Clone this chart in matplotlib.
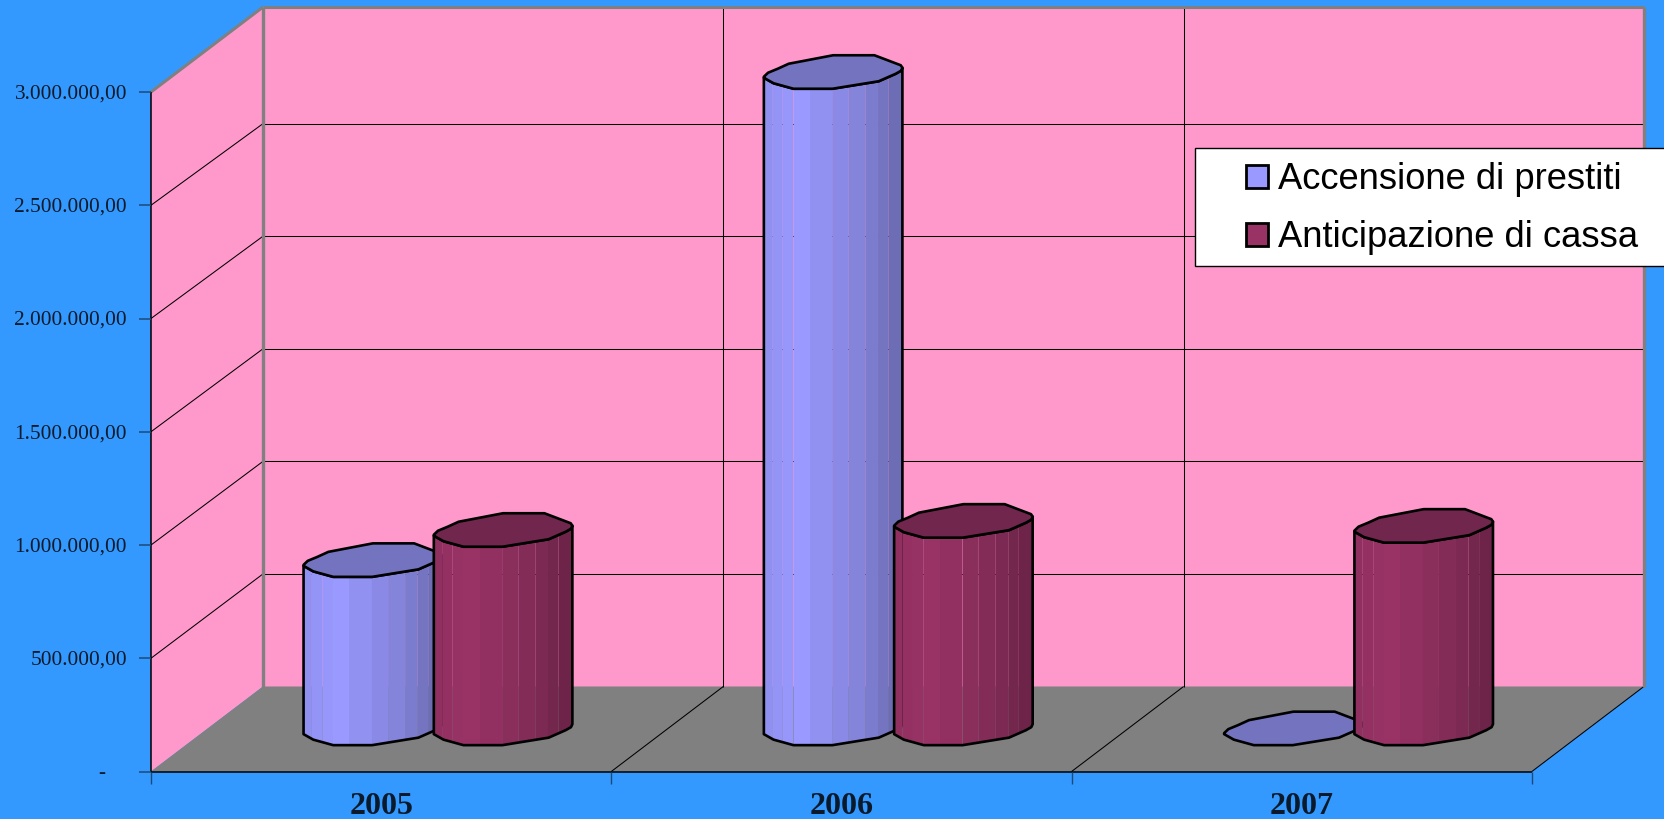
import matplotlib

matplotlib.use("Agg")

import matplotlib.pyplot as plt
import numpy as np
from matplotlib.patches import Patch, Polygon, Rectangle

YEARS = ["2005", "2006", "2007"]
ACCENSIONE = [743000, 2898000, 0]
ANTICIPAZIONE = [876000, 916000, 894000]
Y_TICKS = [0, 500000, 1000000, 1500000, 2000000, 2500000, 3000000]
Y_LABELS = ["-", "500.000,00", "1.000.000,00", "1.500.000,00", "2.000.000,00", "2.500.000,00", "3.000.000,00"]
SERIES_NAMES = ["Accensione di prestiti", "Anticipazione di cassa"]

BG_COLOR = "#3399FF"
WALL_COLOR = "#FF99CC"
FLOOR_COLOR = "#808080"
BLUE = np.array([0x99, 0x99, 0xFF]) / 255
RED = np.array([0x99, 0x33, 0x66]) / 255
BLUE_TOP = "#7373BF"
RED_TOP = "#70264D"

# projection of the fake 3d box onto pixels
X0 = 151.0
Y0 = 771.5
CAT_W = 460.3
DEPTH_X = 112.0
DEPTH_Y = 85.0
Y_SCALE = 679.5 / 3000000
BACK_SHRINK = 0.006

BAR_DEPTH = 0.31
BAR_OFFSETS = [0.256, 0.539]
BAR_WIDTH = 0.301

# rough octagon of the "cylinder" base: u across the bar, v pixels above lowest point
FRONT_U = [0, 0.07, 0.214, 0.495, 0.829, 0.952, 0.99, 1.0]
FRONT_V = [11, 5.5, 0, 0, 7.5, 15, 18, 21]
BACK_U = [0, 0.03, 0.10, 0.179, 0.50, 0.798, 0.988, 1.0]
BACK_V = [12, 16, 20, 25, 33.5, 33.5, 23.5, 21]
STRIP_U = [0, 0.06, 0.136, 0.214, 0.33, 0.493, 0.61, 0.733, 0.824, 0.9, 1.0]
STRIP_SHADE = [0.94, 0.965, 0.985, 1.0, 0.95, 0.90, 0.86, 0.81, 0.755, 0.71]

OUTLINE = 1.9


def to_px(cat, value=0.0, depth=0.0):
    scale = Y_SCALE * (1 - BACK_SHRINK * depth)
    return X0 + cat * CAT_W + depth * DEPTH_X, Y0 - value * scale - depth * DEPTH_Y


def draw_bar(ax, cat, value, color, top_color, zorder):
    left, base = to_px(cat, 0, BAR_DEPTH)
    width = BAR_WIDTH * CAT_W
    height = value * Y_SCALE

    u_all = np.array(sorted(set(FRONT_U) | set(STRIP_U)))
    v_all = np.interp(u_all, FRONT_U, FRONT_V)

    if value > 0:
        for i, shade in enumerate(STRIP_SHADE):
            keep = (u_all >= STRIP_U[i]) & (u_all <= STRIP_U[i + 1])
            xs = left + u_all[keep] * width
            ys = base - v_all[keep]
            pts = list(zip(xs, ys)) + list(zip(xs[::-1], ys[::-1] - height))
            ax.add_patch(Polygon(pts, closed=True, facecolor=color * shade, edgecolor="none", zorder=zorder))
        xs = left + u_all * width
        ys = base - v_all
        pts = list(zip(xs, ys)) + list(zip(xs[::-1], ys[::-1] - height))
        ax.add_patch(Polygon(pts, closed=True, fill=False, edgecolor="black", linewidth=OUTLINE, joinstyle="round", zorder=zorder))

    back = [(left + u * width, base - height - v) for u, v in zip(BACK_U, BACK_V)]
    front = [(left + u * width, base - height - v) for u, v in zip(FRONT_U, FRONT_V)]
    ax.add_patch(Polygon(back + front[::-1], closed=True, facecolor=top_color, edgecolor="black", linewidth=OUTLINE, joinstyle="round", zorder=zorder))


fig = plt.figure(figsize=(16.64, 8.19), dpi=100, facecolor=BG_COLOR)
ax = fig.add_axes([0, 0, 1, 1])
ax.set_xlim(0, 1664)
ax.set_ylim(819, 0)
ax.axis("off")

n_cats = len(YEARS)
top = Y_TICKS[-1]
wall_top = top * (1 + BACK_SHRINK)

# walls and floor
ax.add_patch(Polygon([to_px(0, 0, 0), to_px(0, top, 0), to_px(0, wall_top, 1), to_px(0, 0, 1)], facecolor=WALL_COLOR, edgecolor="none", zorder=1))
ax.add_patch(Polygon([to_px(0, 0, 1), to_px(0, wall_top, 1), to_px(n_cats, wall_top, 1), to_px(n_cats, 0, 1)], facecolor=WALL_COLOR, edgecolor="none", zorder=1))
ax.add_patch(Polygon([to_px(0, 0, 0), to_px(0, 0, 1), to_px(n_cats, 0, 1), to_px(n_cats, 0, 0)], facecolor=FLOOR_COLOR, edgecolor="none", zorder=1))


def seg(a, b, **kw):
    ax.plot([a[0], b[0]], [a[1], b[1]], solid_capstyle="butt", **kw)


# gridlines
for val in Y_TICKS[1:-1]:
    seg(to_px(0, val, 0), to_px(0, val, 1), color="black", lw=0.75, zorder=2)
    seg(to_px(0, val, 1), to_px(n_cats, val, 1), color="black", lw=0.75, zorder=2)
for c in range(1, n_cats):
    seg(to_px(c, 0, 1), to_px(c, wall_top, 1), color="black", lw=0.75, zorder=2)
for c in range(1, n_cats + 1):
    seg(to_px(c, 0, 0), to_px(c, 0, 1), color="black", lw=0.75, zorder=2)

# wall edges
seg(to_px(0, top, 0), to_px(0, wall_top, 1), color=FLOOR_COLOR, lw=2.2, zorder=2)
seg(to_px(0, wall_top, 1), to_px(n_cats, wall_top, 1), color=FLOOR_COLOR, lw=2.2, zorder=2)
seg(to_px(0, 0, 1), to_px(0, wall_top, 1), color=FLOOR_COLOR, lw=2.4, zorder=2)
seg(to_px(n_cats, 0, 1), to_px(n_cats, wall_top, 1), color=FLOOR_COLOR, lw=2.4, zorder=2)

# axes lines
seg(to_px(0, 0, 0), to_px(0, top, 0), color="black", lw=1.1, zorder=3)
seg(to_px(0, 0, 0), to_px(n_cats, 0, 0), color="black", lw=1.1, zorder=3)
for val, label in zip(Y_TICKS, Y_LABELS):
    x, y = to_px(0, val, 0)
    seg((x - 12, y), (x, y), color="#1c4a78", lw=1.1, zorder=3)
    ax.text(127 if val > 0 else 105, y + 2, label, ha="right", va="center", fontsize=15.4, family="Liberation Serif", color="#0a1a2a", zorder=3)
for c in range(n_cats + 1):
    x, y = to_px(c, 0, 0)
    seg((x, y), (x, y + 12), color="#1c4a78", lw=1.0, zorder=3)
for c, year in enumerate(YEARS):
    x, y = to_px(c + 0.5, 0, 0)
    ax.text(x, 807, year, ha="center", va="center", fontsize=23, fontweight="bold", family="Liberation Serif", color="#0a1a2a", zorder=3)

# bars
for c in range(n_cats):
    draw_bar(ax, c + BAR_OFFSETS[0], ACCENSIONE[c], BLUE, BLUE_TOP, 4)
    draw_bar(ax, c + BAR_OFFSETS[1], ANTICIPAZIONE[c], RED, RED_TOP, 4)

# legend
ax.add_patch(Rectangle((1195, 148), 480, 118, facecolor="white", edgecolor="black", linewidth=1.0, zorder=5))
handles = [
    Patch(facecolor=BLUE, edgecolor="black", linewidth=2.0),
    Patch(facecolor=RED, edgecolor="black", linewidth=2.0),
]
ax.legend(
    handles,
    SERIES_NAMES,
    frameon=False,
    loc="upper left",
    bbox_to_anchor=(1246, 162),
    bbox_transform=ax.transData,
    borderpad=0,
    borderaxespad=0,
    handlelength=0.6,
    handleheight=0.6,
    handletextpad=0.27,
    labelspacing=0.63,
    prop={"family": "Liberation Sans", "size": 26.2},
).set_zorder(6)

fig.savefig("out.png", dpi=100, facecolor=BG_COLOR)
plt.close(fig)
